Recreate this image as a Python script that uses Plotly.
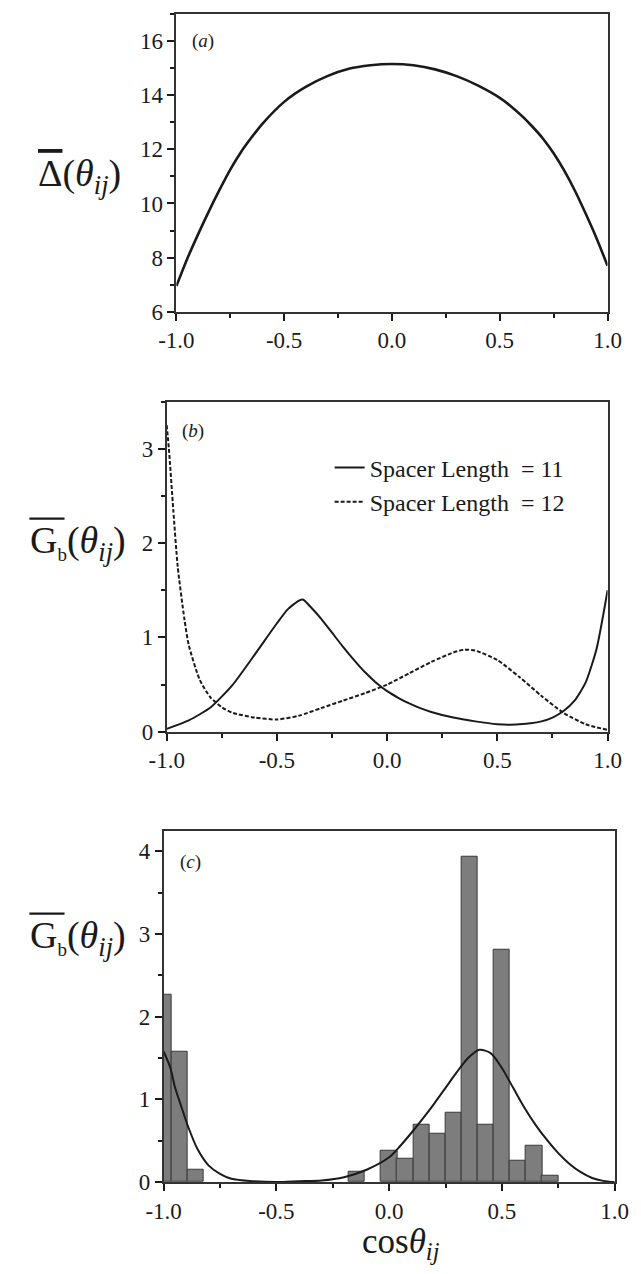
import plotly.graph_objects as go

# ---------------- data ----------------
# Panel (a): mean Delta(theta_ij) vs cos(theta_ij)
a_cos = [-1.0, -0.95, -0.9, -0.85, -0.8, -0.75, -0.7, -0.65, -0.6, -0.5, -0.4, -0.3, -0.2, -0.1, 0.0,
         0.1, 0.2, 0.3, 0.4, 0.5, 0.55, 0.6, 0.65, 0.7, 0.75, 0.8, 0.85, 0.9, 0.95, 1.0]
a_delta = [6.95, 7.95, 8.85, 9.7, 10.5, 11.25, 11.9, 12.45, 12.95, 13.75, 14.3, 14.7, 14.97, 15.1, 15.15,
           15.1, 14.95, 14.7, 14.35, 13.9, 13.6, 13.25, 12.85, 12.4, 11.85, 11.2, 10.45, 9.6, 8.7, 7.7]

# Panel (b): G_b for two spacer lengths
b11_cos = [-1.0, -0.9, -0.8, -0.7, -0.6, -0.5, -0.45, -0.4, -0.38, -0.35, -0.3, -0.25, -0.2, -0.15,
           -0.1, -0.05, 0.0, 0.05, 0.1, 0.15, 0.2, 0.3, 0.4, 0.5, 0.55, 0.6, 0.65, 0.7, 0.75, 0.8,
           0.85, 0.9, 0.95, 1.0]
b11_g = [0.03, 0.12, 0.26, 0.5, 0.82, 1.15, 1.3, 1.39, 1.4, 1.33, 1.2, 1.05, 0.9, 0.76,
         0.63, 0.52, 0.43, 0.36, 0.3, 0.25, 0.21, 0.15, 0.11, 0.08, 0.075, 0.08, 0.09, 0.11, 0.15, 0.22,
         0.33, 0.52, 0.88, 1.5]
b12_cos = [-1.0, -0.99, -0.97, -0.95, -0.92, -0.9, -0.85, -0.8, -0.75, -0.7, -0.6, -0.5,
           -0.4, -0.3, -0.2, -0.1, 0.0, 0.1, 0.2, 0.3, 0.35, 0.4, 0.5, 0.6, 0.7, 0.8, 0.9, 1.0]
b12_g = [3.25, 3.0, 2.35, 1.75, 1.2, 0.92, 0.55, 0.36, 0.26, 0.2, 0.15, 0.13,
         0.17, 0.25, 0.33, 0.41, 0.5, 0.62, 0.74, 0.84, 0.87, 0.86, 0.76, 0.58, 0.38, 0.2, 0.08, 0.02]
b_names = ["Spacer Length\u00a0\u00a0= 11", "Spacer Length\u00a0\u00a0= 12"]

# Panel (c): histogram + fitted curve
c_bin_center = [-1.0, -0.929, -0.857, -0.143, 0.0, 0.071, 0.143, 0.214, 0.286,
                0.357, 0.429, 0.5, 0.571, 0.643, 0.714]
c_bin_height = [2.27, 1.58, 0.15, 0.13, 0.38, 0.28, 0.70, 0.58, 0.84,
                3.93, 0.69, 2.81, 0.26, 0.44, 0.08]
c_bin_width = 0.0714
c_fit_cos = [-1.0, -0.97, -0.95, -0.92, -0.89, -0.85, -0.8, -0.75, -0.7, -0.6, -0.5, -0.4,
             -0.3, -0.2, -0.1, 0.0, 0.05, 0.1, 0.15, 0.2, 0.25, 0.3, 0.35, 0.4, 0.45, 0.5,
             0.55, 0.6, 0.65, 0.7, 0.75, 0.8, 0.85, 0.9, 0.95, 1.0]
c_fit_g = [1.58, 1.38, 1.15, 0.9, 0.66, 0.4, 0.2, 0.1, 0.04, 0.01, 0.0, 0.01,
           0.02, 0.06, 0.15, 0.3, 0.44, 0.6, 0.77, 0.95, 1.14, 1.33, 1.5, 1.6, 1.56, 1.38,
           1.14, 0.9, 0.69, 0.51, 0.35, 0.22, 0.12, 0.05, 0.015, 0.0]

x_tickvals = [-1.0, -0.5, 0.0, 0.5, 1.0]
x_ticktext = ["-1.0", "-0.5", "0.0", "0.5", "1.0"]
x_minor = [-0.75, -0.25, 0.25, 0.75]
a_yticks = [6, 8, 10, 12, 14, 16]
b_yticks = [0, 1, 2, 3]
c_yticks = [0, 1, 2, 3, 4]

# ---------------- layout geometry (pixels) ----------------
W, H = 641, 1274
FONT = "Liberation Serif, DejaVu Serif, serif"
INK = "#1a1a1a"

def xd(l, r):
    return [l / W, r / W]

def yd(t, b):
    return [1 - b / H, 1 - t / H]

def px(x):
    return x / W

def py(y):
    return 1 - y / H

panels = {
    "a": dict(x=xd(166.7, 620.5), y=yd(14, 315), yr=[6, 17], ytv=a_yticks, ymin=1),
    "b": dict(x=xd(156.5, 620.6), y=yd(405.7, 739.3), yr=[0, 3.5], ytv=b_yticks, ymin=0.5),
    "c": dict(x=xd(153.3, 628.0), y=yd(839.3, 1194.3), yr=[0, 4.25], ytv=c_yticks, ymin=0.5),
}

fig = go.Figure()

# panel (a)
fig.add_trace(go.Scatter(x=a_cos, y=a_delta, mode="lines",
                         line=dict(color=INK, width=2.6, shape="spline", smoothing=0.8),
                         showlegend=False, xaxis="x", yaxis="y"))
# panel (b)
fig.add_trace(go.Scatter(x=b11_cos, y=b11_g, mode="lines", name=b_names[0],
                         line=dict(color=INK, width=2, shape="spline", smoothing=0.6),
                         xaxis="x2", yaxis="y2"))
fig.add_trace(go.Scatter(x=b12_cos, y=b12_g, mode="lines", name=b_names[1],
                         line=dict(color=INK, width=2, dash="4px,2px", shape="spline", smoothing=0.6),
                         xaxis="x2", yaxis="y2"))
# panel (c)
fig.add_trace(go.Bar(x=c_bin_center, y=c_bin_height, width=c_bin_width,
                     marker=dict(color="#7d7d7d", line=dict(color="#3a3a3a", width=1)),
                     showlegend=False, xaxis="x3", yaxis="y3"))
fig.add_trace(go.Scatter(x=c_fit_cos, y=c_fit_g, mode="lines",
                         line=dict(color=INK, width=2, shape="spline", smoothing=0.8),
                         showlegend=False, xaxis="x3", yaxis="y3"))

tickfont = dict(family=FONT, size=23, color=INK)
layout = dict(
    width=W, height=H, margin=dict(l=0, r=0, t=0, b=0), autosize=False,
    paper_bgcolor="white", plot_bgcolor="white",
    font=dict(family=FONT, color=INK),
    showlegend=True,
    legend=dict(x=px(328), y=py(450), xanchor="left", yanchor="top",
                bgcolor="rgba(0,0,0,0)", font=dict(family=FONT, size=24, color=INK),
                itemwidth=30, tracegroupgap=0),
    bargap=0,
)

for i, key in enumerate(["a", "b", "c"]):
    p = panels[key]
    n = i + 1
    sfx = "" if n == 1 else str(n)
    xname, yname = "xaxis" + sfx, "yaxis" + sfx
    xref, yref = "x" + sfx, "y" + sfx
    layout[xname] = dict(domain=p["x"], anchor=yref, range=[-1, 1], tickmode="array",
                         tickvals=x_tickvals, ticktext=x_ticktext, ticks="outside", ticklen=7,
                         tickwidth=1.5, tickcolor=INK, showline=True, linewidth=1.8, linecolor="#333",
                         mirror=True, showgrid=False, zeroline=False, tickfont=tickfont,
                         minor=dict(tickvals=x_minor, ticks="outside", ticklen=4,
                                    tickwidth=1.5, tickcolor=INK, showgrid=False))
    layout[yname] = dict(domain=p["y"], anchor=xref, range=p["yr"], tickmode="array",
                         tickvals=p["ytv"], ticks="outside", ticklen=7, tickwidth=1.5, tickcolor=INK,
                         showline=True, linewidth=1.8, linecolor="#333", mirror=True,
                         showgrid=False, zeroline=False, tickfont=tickfont,
                         minor=dict(dtick=p["ymin"], ticks="outside", ticklen=4, tickwidth=1.5,
                                    tickcolor=INK, showgrid=False))
    # overlay axes for inward ticks on top and right
    tx, ty = "xaxis" + str(n + 3), "yaxis" + str(n + 3)
    layout[tx] = dict(overlaying=xref, anchor=yref, side="top", range=[-1, 1], tickmode="array",
                      tickvals=x_tickvals, ticks="inside", ticklen=7, tickwidth=1.5, tickcolor=INK,
                      showticklabels=False, showline=False, showgrid=False, zeroline=False,
                      minor=dict(tickvals=x_minor, ticks="inside", ticklen=4,
                                 tickwidth=1.5, tickcolor=INK, showgrid=False))
    layout[ty] = dict(overlaying=yref, anchor=xref, side="right", range=p["yr"], tickmode="array",
                      tickvals=p["ytv"], ticks="inside", ticklen=7, tickwidth=1.5, tickcolor=INK,
                      showticklabels=False, showline=False, showgrid=False, zeroline=False,
                      minor=dict(dtick=p["ymin"], ticks="inside", ticklen=4, tickwidth=1.5,
                                 tickcolor=INK, showgrid=False))

fig.update_layout(**layout)

TS = 38
title_font = dict(family=FONT, size=TS, color=INK)
theta_ij = "(<i>θ</i><sub><i>ij</i></sub>)"

# Delta title (overline via text decoration)
fig.add_annotation(text="<span style='text-decoration:overline'>Δ</span>" + theta_ij,
                   xref="paper", yref="paper", x=px(19), y=py(178), xanchor="left", yanchor="middle",
                   showarrow=False, font=title_font)
# G_b titles, overline drawn as a line spanning G and its small subscript
for yc in (549, 948):
    fig.add_annotation(text="G<sub><span style='font-size:19px'>b</span></sub>" + theta_ij,
                       xref="paper", yref="paper", x=px(10), y=py(yc), xanchor="left", yanchor="middle",
                       showarrow=False, font=title_font)
    fig.add_shape(type="line", xref="paper", yref="paper", x0=px(12), x1=px(49),
                  y0=py(yc - 25), y1=py(yc - 25), line=dict(color=INK, width=2.2))

fig.add_annotation(text="cos<i>θ</i><sub><i>ij</i></sub>", xref="paper", yref="paper",
                   x=px(403), y=py(1256), xanchor="center", yanchor="middle",
                   showarrow=False, font=dict(family=FONT, size=35, color=INK))

for txt, lx, ly in [("(<i>a</i>)", 181, 41.7), ("(<i>b</i>)", 171, 435), ("(<i>c</i>)", 168, 871)]:
    fig.add_annotation(text=txt, xref="paper", yref="paper", x=px(lx), y=py(ly),
                       xanchor="left", yanchor="middle", showarrow=False,
                       font=dict(family=FONT, size=19, color=INK))

fig.write_html("out.html")
